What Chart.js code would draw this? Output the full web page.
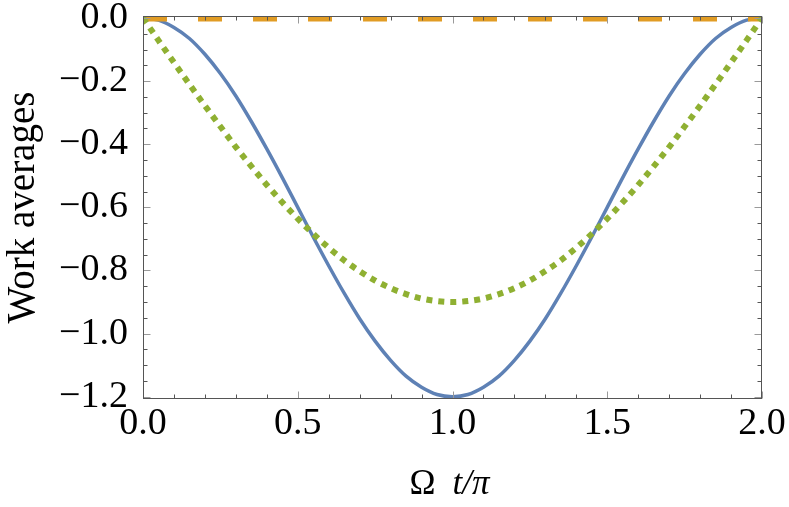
<!DOCTYPE html>
<html>
<head>
<meta charset="utf-8">
<script src="https://cdn.jsdelivr.net/npm/chart.js@4.4.0/dist/chart.umd.min.js"></script>
<style>
html, body { margin: 0; padding: 0; background: #fff; }
#wrap { width: 789px; height: 507px; }
</style>
</head>
<body>
<div id="wrap"><canvas id="myChart" width="789" height="507" style="width:789px;height:507px"></canvas></div>
<script>
// values, x = Omega t / pi
const xs = [0, 0.05, 0.1, 0.15, 0.2, 0.25, 0.3, 0.35, 0.4, 0.45, 0.5, 0.55, 0.6, 0.65, 0.7, 0.75, 0.8, 0.85, 0.9, 0.95, 1,
	1.05, 1.1, 1.15, 1.2, 1.25, 1.3, 1.35, 1.4, 1.45, 1.5, 1.55, 1.6, 1.65, 1.7, 1.75, 1.8, 1.85, 1.9, 1.95, 2];
const blueWork = [0, -0.007, -0.03, -0.065, -0.115, -0.176, -0.247, -0.328, -0.415, -0.506, -0.6, -0.694, -0.785, -0.872, -0.953, -1.024, -1.085, -1.135, -1.17, -1.193, -1.2,
	-1.193, -1.17, -1.135, -1.085, -1.024, -0.953, -0.872, -0.785, -0.694, -0.6, -0.506, -0.415, -0.328, -0.247, -0.176, -0.115, -0.065, -0.03, -0.007, 0];
const greenWork = [0, -0.071, -0.141, -0.21, -0.278, -0.344, -0.409, -0.47, -0.529, -0.584, -0.636, -0.684, -0.728, -0.768, -0.802, -0.832, -0.856, -0.875, -0.889, -0.897, -0.9,
	-0.897, -0.889, -0.875, -0.856, -0.832, -0.802, -0.768, -0.728, -0.684, -0.636, -0.584, -0.529, -0.47, -0.409, -0.344, -0.278, -0.21, -0.141, -0.071, 0];
const orangeX = [0, 2];
const orangeWork = [0, 0];

const xTicks = [0, 0.5, 1, 1.5, 2];
const yTicks = [0, -0.2, -0.4, -0.6, -0.8, -1.0, -1.2];

const FONT = "'Liberation Serif', 'Times New Roman', serif";

function fmt(v) {
	if (Math.abs(v) < 1e-9) return "0.0";
	return v.toFixed(1).replace("-", "\u2212");
}

function pts(xArr, yArr) {
	return xArr.map((x, i) => ({ x: x, y: yArr[i] }));
}

// frame + inward ticks like the original
const frameTicks = {
	id: "frameTicks",
	afterDatasetsDraw(chart) {
		const { ctx, chartArea: a, scales } = chart;
		const x = scales.x, y = scales.y;
		ctx.save();
		ctx.lineWidth = 1;
		const L = Math.round(a.left) + 0.5, R = Math.round(a.right) - 0.5;
		const T = Math.round(a.top) + 0.5, B = Math.round(a.bottom) - 0.5;

		function tick(x1, y1, x2, y2, col) {
			ctx.strokeStyle = col;
			ctx.beginPath();
			ctx.moveTo(x1, y1);
			ctx.lineTo(x2, y2);
			ctx.stroke();
		}
		// x ticks every 0.1, major every 0.5
		for (let i = 0; i <= 20; i++) {
			const px = Math.round(x.getPixelForValue(i / 10)) + 0.5;
			const major = i % 5 === 0;
			const len = major ? 7 : 4;
			const col = major ? "#9a9a9a" : "#555";
			tick(px, B, px, B - len, col);
			tick(px, T, px, T + len, col);
		}
		// y ticks every 0.05, major every 0.2
		for (let i = 0; i <= 24; i++) {
			const py = Math.round(y.getPixelForValue(-i * 0.05)) + 0.5;
			const major = i % 4 === 0;
			const len = major ? 7 : 4;
			const col = major ? "#9a9a9a" : "#555";
			tick(L, py, L + len, py, col);
			tick(R, py, R - len, py, col);
		}
		ctx.strokeStyle = "#555";
		ctx.strokeRect(L, T, R - L, B - T);

		// x axis title, Omega upright and t/pi italic
		ctx.fillStyle = "#000";
		ctx.textBaseline = "alphabetic";
		ctx.textAlign = "left";
		const up = "35px " + FONT, it = "italic 35px " + FONT;
		ctx.font = up;
		const w1 = ctx.measureText("\u03A9").width;
		const gap = 17;
		ctx.font = it;
		const w2 = ctx.measureText("t/\u03C0").width;
		let sx = (a.left + a.right) / 2 - (w1 + gap + w2) / 2 - 3;
		ctx.font = up;
		ctx.fillText("\u03A9", sx, 494);
		ctx.font = it;
		ctx.fillText("t/\u03C0", sx + w1 + gap, 494);
		ctx.restore();
	}
};

window.addEventListener("load", setup);

function setup() {
	const ctx = document.getElementById("myChart").getContext("2d");
	new Chart(ctx, {
		type: "line",
		data: {
			datasets: [
				{
					label: "green",
					data: pts(xs, greenWork),
					borderColor: "#8FB032",
					borderWidth: 6,
					borderDash: [6, 6],
					borderCapStyle: "butt",
					pointRadius: 0,
					cubicInterpolationMode: "monotone",
					order: 0
				},
				{
					label: "orange",
					data: pts(orangeX, orangeWork),
					borderColor: "#E19C24",
					borderWidth: 7,
					borderDash: [24, 31],
					borderCapStyle: "butt",
					pointRadius: 0,
					clip: 0,
					order: 1
				},
				{
					label: "blue",
					data: pts(xs, blueWork),
					borderColor: "#5E81B5",
					borderWidth: 3.5,
					pointRadius: 0,
					cubicInterpolationMode: "monotone",
					order: 2
				}
			]
		},
		options: {
			responsive: false,
			animation: false,
			devicePixelRatio: 1,
			layout: { padding: { top: 16, right: 27, left: 0, bottom: 0 } },
			plugins: { legend: { display: false }, tooltip: { enabled: false } },
			scales: {
				x: {
					type: "linear",
					min: 0,
					max: 2,
					afterBuildTicks: (s) => { s.ticks = xTicks.map((v) => ({ value: v })); },
					afterFit: (s) => { s.height = 108; s.paddingLeft = 0; s.paddingRight = 0; },
					grid: { display: false },
					border: { display: false },
					ticks: {
						autoSkip: false,
						maxRotation: 0,
						padding: -6,
						color: "#000",
						font: { family: FONT, size: 38 },
						callback: (v) => fmt(v)
					}
				},
				y: {
					type: "linear",
					min: -1.2073,
					max: 0.0063,
					afterBuildTicks: (s) => { s.ticks = yTicks.map((v) => ({ value: v })); },
					afterFit: (s) => { s.width = 143; s.paddingTop = 0; s.paddingBottom = 0; },
					grid: { display: false },
					border: { display: false },
					title: {
						display: true,
						text: "Work averages",
						color: "#000",
						padding: 0,
						font: { family: FONT, size: 39 }
					},
					ticks: {
						autoSkip: false,
						padding: 7,
						color: "#000",
						font: { family: FONT, size: 38 },
						callback: (v) => fmt(v)
					}
				}
			}
		},
		plugins: [frameTicks]
	});
}
</script>
</body>
</html>
